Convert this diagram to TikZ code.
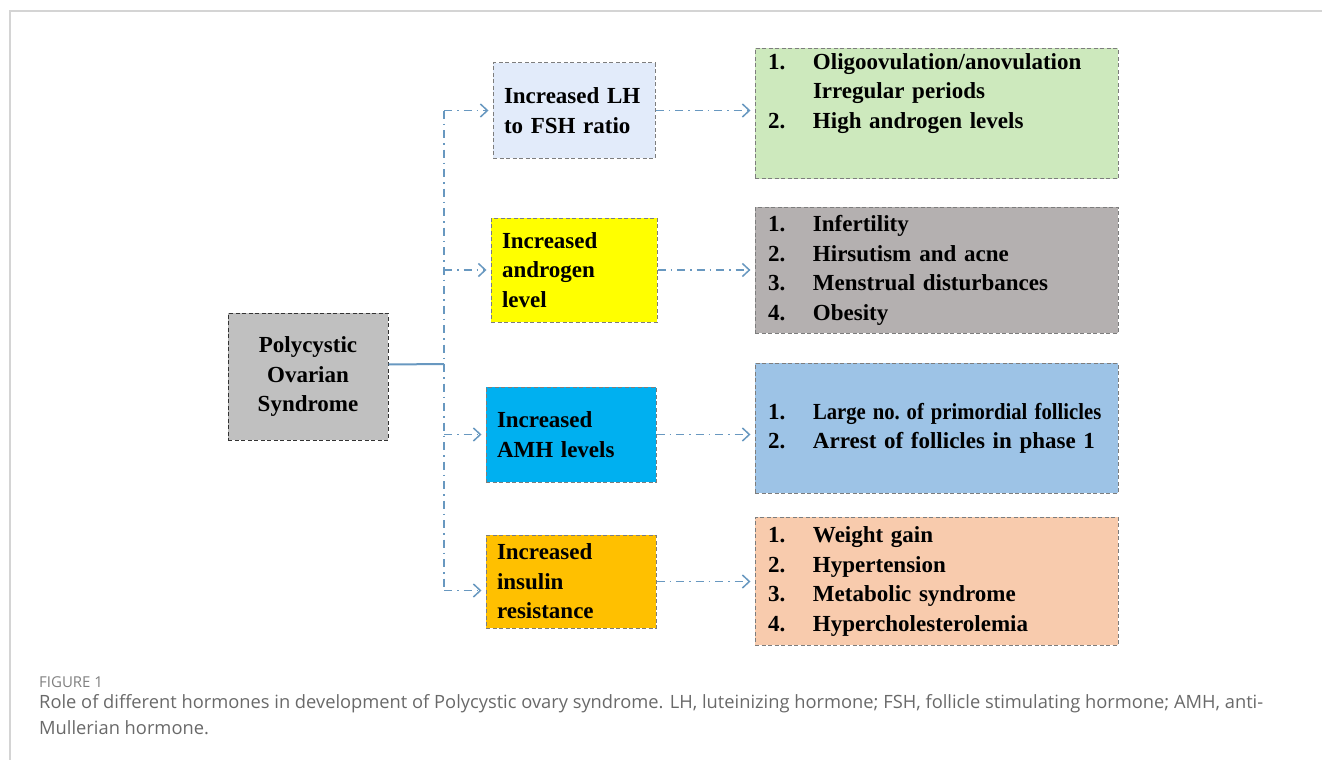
\documentclass[tikz,border=0pt]{standalone}
\usepackage{fontspec}
\usepackage{graphicx}
\usepackage{tikz}
\setmainfont{Liberation Serif}
\newfontfamily\capfont{Open Sans}
\usetikzlibrary{arrows.meta}
\definecolor{linkblue}{RGB}{104, 152, 192}
\definecolor{bordergray}{RGB}{125, 125, 125}
\definecolor{pcosgray}{RGB}{192, 192, 192}
\definecolor{lhblue}{RGB}{226, 235, 250}
\definecolor{andyellow}{RGB}{255, 255, 0}
\definecolor{amhcyan}{RGB}{0, 176, 240}
\definecolor{insorange}{RGB}{255, 192, 0}
\definecolor{resgreen}{RGB}{205, 233, 189}
\definecolor{resgray}{RGB}{180, 176, 176}
\definecolor{resblue}{RGB}{157, 195, 230}
\definecolor{respeach}{RGB}{248, 203, 173}
\definecolor{framegray}{RGB}{212, 212, 212}
\definecolor{capgray}{RGB}{105, 105, 105}
\newcommand{\boxfont}{\fontsize{23}{29.5}\selectfont\bfseries}

\begin{document}
\begin{tikzpicture}[x = 1pt, y = -1pt,
  hormone/.style = {draw = bordergray, line width = 1pt, dash pattern = on 4pt off 2.5pt,
    inner xsep = 11pt, inner ysep = 0pt, align = left, font = \boxfont},
  effect/.style = {hormone, minimum width = 363pt, text width = 337pt, inner xsep = 13pt},
  link/.style = {draw = linkblue, line width = 1.5pt, dash pattern = on 8pt off 5pt on 1.5pt off 5pt},
  tip/.style = {-{Straight Barb[length = 7pt, width = 13pt]}, shorten > = 4pt}]
\useasboundingbox (0,0) rectangle (1322,760);
\draw[framegray, line width = 1.2pt] (10,760) -- (10,11) -- (1322,11);

\node[hormone, fill = pcosgray, draw = black!80, align = center, text width = 138pt, minimum height = 127pt] (pcos) at (308,376.5) {Polycystic\\Ovarian\\Syndrome};

\node[hormone, fill = lhblue, text width = 140pt, minimum height = 95pt] (lh) at (574,110.5) {Increased LH\\to FSH ratio};
\node[hormone, fill = andyellow, text width = 144pt, minimum height = 104pt] (andr) at (574,270) {Increased\\androgen\\level};
\node[hormone, fill = amhcyan, text width = 148pt, minimum height = 95pt] (amh) at (571,434.5) {Increased\\AMH levels};
\node[hormone, fill = insorange, text width = 148pt, minimum height = 93pt] (ins) at (571,581.5) {Increased\\insulin\\resistance};

\node[effect, fill = resgreen, minimum height = 127pt] (r1) at (936.5,113.5) {\begin{tabular}{@{}p{45pt}@{}l@{}}
1. & Oligoovulation/anovulation\\
 & Irregular periods\\
2. & High androgen levels\\
 & \\[12pt]
\end{tabular}};
\node[effect, fill = resgray, minimum height = 126pt] (r2) at (936.5,270) {\begin{tabular}{@{}p{45pt}@{}l@{}}
1. & Infertility\\
2. & Hirsutism\hspace{0.35em}and acne\\
3. & Menstrual disturbances\\
4. & Obesity
\end{tabular}};
\node[effect, fill = resblue, minimum height = 130pt] (r3) at (936.5,428) {\begin{tabular}{@{}p{45pt}@{}l@{}}
1. & \scalebox{0.9}[1]{Large no.\ of primordial\hspace{0.35em}follicles}\\
2. & Arrest of follicles in phase 1
\end{tabular}};
\node[effect, fill = respeach, minimum height = 128pt] (r4) at (936.5,581) {\begin{tabular}{@{}p{45pt}@{}l@{}}
1. & Weight gain\\
2. & Hypertension\\
3. & Metabolic syndrome\\
4. & Hypercholesterolemia
\end{tabular}};

\coordinate (jn) at (444,364);
\coordinate (insin) at ([yshift = -9pt]ins.west);
\draw[link, solid, line width = 2pt] ([yshift = 12pt]pcos.east) -- (jn);
\draw[link] (jn |- lh.west) -- (jn |- insin);
\foreach \n in {lh, andr, amh}
  \draw[link, tip] (jn |- \n.west) -- (\n.west);
\draw[link, tip] (jn |- insin) -- (insin);
\foreach \a/\b in {lh/r1, andr/r2, amh/r3, ins/r4}
  \draw[link, tip] (\a.east) -- (\a.east -| \b.west);

\node[anchor = west, text = capgray!85, font = \capfont\fontsize{15}{18}\selectfont, inner sep = 0pt] (fig) at (39,682) {FIGURE 1};
\node[anchor = north west, align = left, text = capgray, font = \capfont\fontsize{18.3}{26}\selectfont, inner sep = 0pt] (cap) at (39,694) {Role of different hormones in development of Polycystic ovary syndrome. LH, luteinizing hormone; FSH, follicle stimulating hormone; AMH, anti-\\Mullerian hormone.};
\end{tikzpicture}
\end{document}
